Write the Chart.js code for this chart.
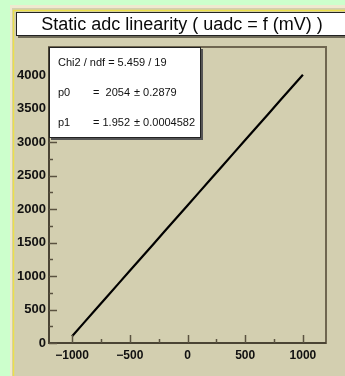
<!DOCTYPE html>
<html><head><meta charset="utf-8">
<script src="https://cdn.jsdelivr.net/npm/chart.js@4.4.1/dist/chart.umd.min.js"></script>
<style>html,body{margin:0;padding:0;background:#ccffcc;}#wrap{width:345px;height:376px;position:relative;}</style>
</head><body><div id="wrap"><canvas id="c" width="345" height="376"></canvas></div>
<script>
const titleText = "Static adc linearity ( uadc = f (mV) )";
const xValues = [-1000,-900,-800,-700,-600,-500,-400,-300,-200,-100,0,100,200,300,400,500,600,700,800,900,1000];
const yValues = [102,297,492,688,883,1078,1273,1468,1664,1859,2054,2249,2444,2640,2835,3030,3225,3420,3616,3811,4006];
const statLabels = ["Chi2 / ndf = 5.459 / 19", "p0", "p1"];
const statValues = ["", "=  2054", "= 1.952"];
const statErrors = ["", "\u00b1 0.2879", "\u00b1 0.0004582"];
const xRange = [-1200, 1200];
const yRange = [0, 4420];
const xLabelTicks = [-1000,-500,0,500,1000];
const yLabelTicks = [0,500,1000,1500,2000,2500,3000,3500,4000];

const points = xValues.map((x,i)=>({x:x, y:yValues[i]}));

const bgPlugin = {
  id:'bg',
  beforeDraw(chart){
    const ctx = chart.ctx, W = chart.width, H = chart.height;
    ctx.save();
    ctx.fillStyle = '#ccffcc'; ctx.fillRect(0,0,W,H);
    ctx.fillStyle = '#efe9cf'; ctx.fillRect(10,5,W-10,H-5);
    ctx.fillStyle = '#d3cfb0'; ctx.fillRect(12,8,W-12,H-8);
    ctx.strokeStyle = '#ece04a'; ctx.lineWidth = 1.5;
    ctx.beginPath(); ctx.moveTo(13.5,H); ctx.lineTo(13.5,10.5); ctx.lineTo(W,10.5); ctx.stroke();
    // title box
    ctx.fillStyle = '#6e6a58'; ctx.fillRect(18,14,W-18,24);
    ctx.fillStyle = '#ffffff'; ctx.fillRect(16,12,W-16,24);
    ctx.strokeStyle = '#222'; ctx.lineWidth = 1;
    ctx.strokeRect(16.5,12.5,W,23);
    ctx.fillStyle = '#0a0a0a';
    ctx.font = '18px "Liberation Sans", Arial, sans-serif';
    ctx.textAlign = 'center'; ctx.textBaseline = 'middle';
    ctx.fillText(titleText,182,25);
    ctx.restore();
  },
  afterDatasetsDraw(chart){
    const ctx = chart.ctx, a = chart.chartArea;
    const xs = chart.scales.x, ys = chart.scales.y;
    ctx.save();
    // frame
    ctx.strokeStyle = '#6f6650'; ctx.lineWidth = 2;
    ctx.strokeRect(a.left, a.top, a.right-a.left, a.bottom-a.top);
    ctx.strokeStyle = '#4a4434'; ctx.lineWidth = 2;
    ctx.beginPath(); ctx.moveTo(a.left, a.top); ctx.lineTo(a.left, a.bottom); ctx.lineTo(a.right, a.bottom); ctx.stroke();
    ctx.strokeStyle = '#5a5240'; ctx.lineWidth = 1.5;
    // y ticks
    for (let v=0; v<=yRange[1]; v+=250){
      const p = Math.round(ys.getPixelForValue(v))+0.5;
      const len = (v%500===0)?8:4;
      ctx.beginPath(); ctx.moveTo(a.left, p); ctx.lineTo(a.left+len, p); ctx.stroke();
    }
    for (let v=-1000; v<=1000; v+=250){
      const p = Math.round(xs.getPixelForValue(v))+0.5;
      const len = (v%500===0)?8:4;
      ctx.beginPath(); ctx.moveTo(p, a.bottom); ctx.lineTo(p, a.bottom-len); ctx.stroke();
    }
    // labels
    ctx.fillStyle = '#111';
    ctx.font = 'bold 13px "Liberation Sans", Arial, sans-serif';
    ctx.textAlign = 'right'; ctx.textBaseline = 'middle';
    yLabelTicks.forEach(v=>{ ctx.fillText(String(v), a.left-3, ys.getPixelForValue(v)); });
    ctx.font = 'bold 12px "Liberation Sans", Arial, sans-serif';
    ctx.textAlign = 'center';
    xLabelTicks.forEach(v=>{ ctx.fillText(v<0?('\u2212'+(-v)):String(v), xs.getPixelForValue(v), a.bottom+13); });
    // stats box
    const bx = a.left, by = a.top, bw = 152, bh = 91;
    ctx.fillStyle = '#555'; ctx.fillRect(bx+2, by+2, bw, bh);
    ctx.fillStyle = '#fff'; ctx.fillRect(bx, by, bw, bh);
    ctx.strokeStyle = '#222'; ctx.lineWidth = 1;
    ctx.strokeRect(bx+0.5, by+0.5, bw-1, bh-1);
    ctx.fillStyle = '#111';
    ctx.font = '11px "Liberation Sans", Arial, sans-serif';
    ctx.textAlign = 'left';
    const rows = [by+16, by+46, by+76];
    statLabels.forEach((l,i)=>{ ctx.fillText(l, bx+9, rows[i]); });
    statValues.forEach((l,i)=>{ if(l) ctx.fillText(l, bx+44, rows[i]); });
    statErrors.forEach((l,i)=>{ if(l) ctx.fillText(l, bx+85, rows[i]); });
    ctx.restore();
  }
};

new Chart(document.getElementById('c'), {
  type:'line',
  data:{ datasets:[{ data: points, borderColor:'#000', borderWidth:2.2, pointRadius:0, tension:0, fill:false }]},
  options:{
    responsive:false, animation:false, devicePixelRatio:1,
    layout:{ padding:{ left:0, right:19, top:47, bottom:0 } },
    plugins:{ legend:{display:false}, tooltip:{enabled:false}, title:{display:false} },
    scales:{
      x:{ type:'linear', min:xRange[0], max:xRange[1], grid:{display:false}, border:{display:false},
          ticks:{display:false}, afterFit(s){ s.height = 33; } },
      y:{ type:'linear', min:yRange[0], max:yRange[1], grid:{display:false}, border:{display:false},
          ticks:{display:false}, afterFit(s){ s.width = 49; } }
    }
  },
  plugins:[bgPlugin]
});
</script></body></html>
